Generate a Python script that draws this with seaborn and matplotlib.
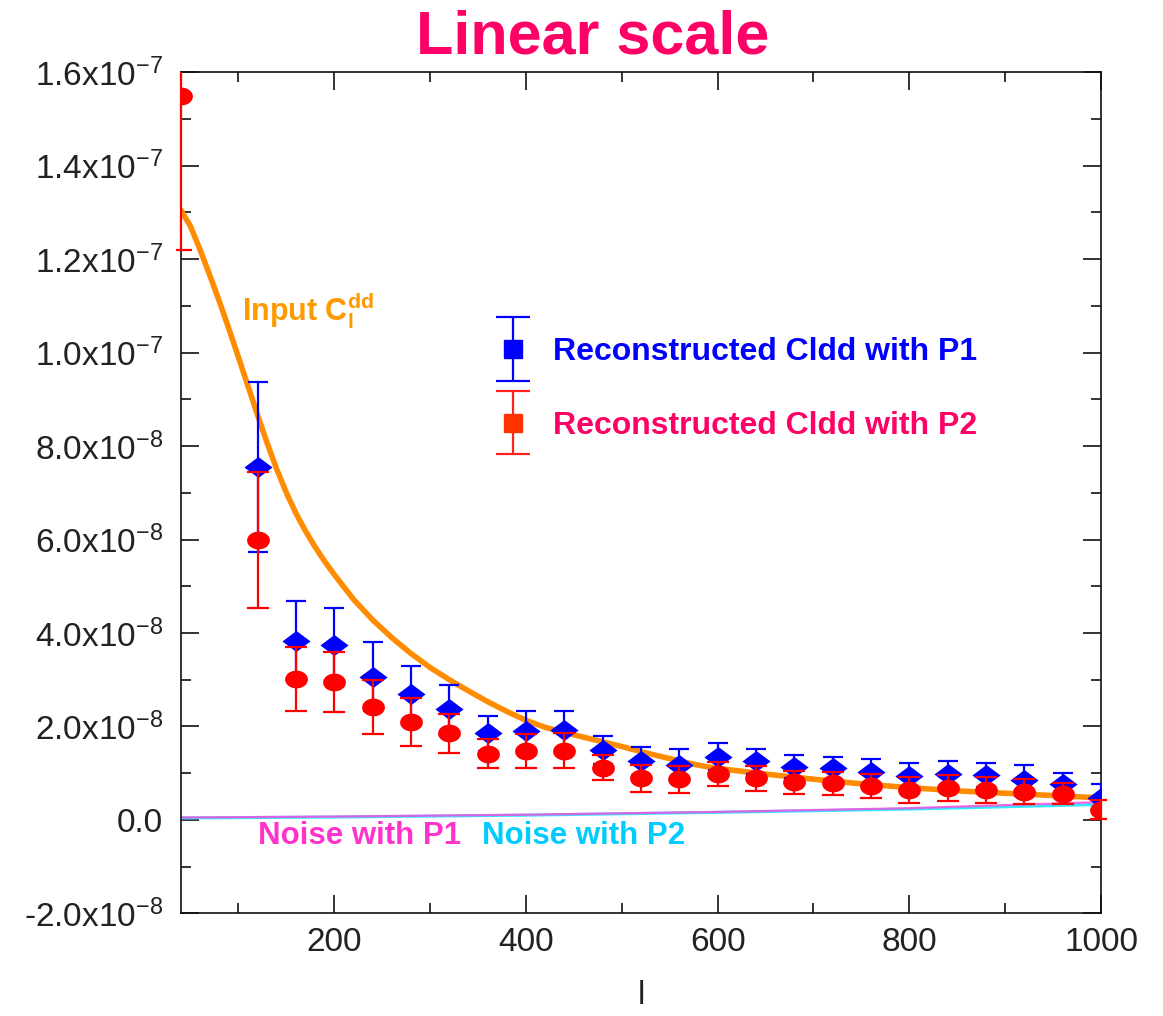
import numpy as np
import pandas as pd
import matplotlib
matplotlib.use("Agg")
import matplotlib.pyplot as plt
import seaborn as sns
from matplotlib.container import ErrorbarContainer
from matplotlib.legend_handler import HandlerErrorbar
from matplotlib.markers import MarkerStyle
from matplotlib.ticker import FixedLocator, FixedFormatter, MultipleLocator
from matplotlib.transforms import Bbox, TransformedBbox

# all C_l values below are in units of 1e-8
l_p1 = [120, 160, 200, 240, 280, 320, 360, 400, 440, 480, 520, 560,
        600, 640, 680, 720, 760, 800, 840, 880, 920, 960, 1000]
cl_p1 = [7.55, 3.83, 3.74, 3.06, 2.69, 2.38, 1.85, 1.91, 1.92, 1.50, 1.25, 1.18,
         1.35, 1.25, 1.14, 1.10, 1.03, 0.93, 0.98, 0.96, 0.85, 0.77, 0.46]
err_p1 = [1.82, 0.85, 0.80, 0.74, 0.61, 0.51, 0.37, 0.43, 0.42, 0.30, 0.30, 0.34,
          0.29, 0.27, 0.24, 0.25, 0.27, 0.29, 0.29, 0.26, 0.33, 0.24, 0.30]

l_p2 = [40, 120, 160, 200, 240, 280, 320, 360, 400, 440, 480, 520, 560,
        600, 640, 680, 720, 760, 800, 840, 880, 920, 960, 1000]
cl_p2 = [15.5, 5.99, 3.01, 2.95, 2.41, 2.09, 1.85, 1.42, 1.47, 1.48, 1.12, 0.89, 0.87,
         0.98, 0.89, 0.80, 0.78, 0.73, 0.64, 0.68, 0.64, 0.60, 0.56, 0.22]
err_p2 = [3.3, 1.45, 0.69, 0.64, 0.58, 0.52, 0.42, 0.32, 0.36, 0.37, 0.27, 0.29, 0.29,
          0.26, 0.27, 0.24, 0.25, 0.26, 0.27, 0.27, 0.27, 0.27, 0.22, 0.20]

l_input = [40, 50, 60, 70, 80, 90, 100, 110, 120, 130, 140, 150, 160, 170, 180, 190, 200,
           220, 240, 260, 280, 300, 320, 340, 360, 380, 400, 420, 440, 460, 480, 500,
           520, 540, 560, 580, 600, 650, 700, 750, 800, 850, 900, 950, 1000]
cl_input = [13.05, 12.70, 12.20, 11.66, 11.10, 10.51, 9.90, 9.28, 8.66, 8.06, 7.50, 7.00,
            6.56, 6.18, 5.84, 5.53, 5.25, 4.72, 4.28, 3.90, 3.56, 3.26, 3.00, 2.76, 2.53,
            2.32, 2.13, 1.98, 1.87, 1.77, 1.67, 1.57, 1.46, 1.36, 1.26, 1.17, 1.10, 0.98,
            0.87, 0.77, 0.69, 0.62, 0.57, 0.52, 0.47]

l_noise = [40, 200, 400, 600, 800, 1000]
noise_p1 = [0.05, 0.07, 0.11, 0.17, 0.25, 0.38]
noise_p2 = [0.04, 0.06, 0.10, 0.16, 0.23, 0.33]

y_ticks = [-2, 0, 2, 4, 6, 8, 10, 12, 14, 16]
y_tick_labels = ["-2.0x10$^{-8}$", "0.0", "2.0x10$^{-8}$", "4.0x10$^{-8}$", "6.0x10$^{-8}$",
                 "8.0x10$^{-8}$", "1.0x10$^{-7}$", "1.2x10$^{-7}$", "1.4x10$^{-7}$", "1.6x10$^{-7}$"]

scale = 1e-8
p1 = pd.DataFrame({"l": l_p1, "cl": np.array(cl_p1) * scale, "err": np.array(err_p1) * scale})
p2 = pd.DataFrame({"l": l_p2, "cl": np.array(cl_p2) * scale, "err": np.array(err_p2) * scale})
inp = pd.DataFrame({"l": l_input, "cl": np.array(cl_input) * scale})
noise = pd.DataFrame({"l": l_noise, "p1": np.array(noise_p1) * scale, "p2": np.array(noise_p2) * scale})

sns.set_theme(style="ticks")
plt.rcParams["font.family"] = ["Liberation Sans", "DejaVu Sans"]
plt.rcParams["mathtext.fontset"] = "custom"
plt.rcParams["mathtext.rm"] = "Liberation Sans"
plt.rcParams["mathtext.it"] = "Liberation Sans:italic"
plt.rcParams["mathtext.bf"] = "Liberation Sans:bold"

fig = plt.figure(figsize=(11.63, 10.16), dpi=100)
ax = fig.add_axes([0.1556, 0.1011, 0.7911, 0.8277])

blue = "#0000FF"
red = "#FF0000"

sns.lineplot(data=inp, x="l", y="cl", color="#FF8C00", lw=4, ax=ax, zorder=2)
sns.lineplot(data=noise, x="l", y="p2", color="#33E8FF", lw=2.2, ax=ax, zorder=2)
sns.lineplot(data=noise, x="l", y="p1", color="#FF44DD", lw=1.6, ax=ax, zorder=2, alpha=0.8)

# squashed diamond and ellipse markers like in the original
diamond = MarkerStyle([(-1, 0), (0, 0.75), (1, 0), (0, -0.75), (-1, 0)])
t = np.linspace(0, 2 * np.pi, 40)
ellipse = MarkerStyle(list(zip(np.cos(t), 0.78 * np.sin(t))))

ax.errorbar(p1.l, p1.cl, yerr=p1.err, fmt="none", ecolor=blue, elinewidth=1.6,
            capsize=7, capthick=1.6, zorder=3)
sns.scatterplot(data=p1, x="l", y="cl", marker=diamond, s=410, color=blue,
                linewidth=0, ax=ax, zorder=4)
eb2 = ax.errorbar(p2.l, p2.cl, yerr=p2.err, fmt="none", ecolor=red, elinewidth=1.6,
                  capsize=8, capthick=1.6, zorder=5)
# let the red bars sit on top of the left spine, as in the original
wide_clip = TransformedBbox(Bbox([[-0.005, 0.0], [1.005, 1.0]]), ax.transAxes)
for art in list(eb2.lines[1]) + list(eb2.lines[2]):
    art.set_clip_box(wide_clip)
sns.scatterplot(data=p2, x="l", y="cl", marker=ellipse, s=270, color=red,
                linewidth=0, ax=ax, zorder=6)

# legend proxies (square markers with error bars)
h1 = ax.errorbar([np.nan], [np.nan], yerr=[1], fmt="s", color=blue, ms=13,
                 elinewidth=1.6, capsize=12, capthick=1.6,
                 label="Reconstructed Cldd with P1")
h2 = ax.errorbar([np.nan], [np.nan], yerr=[1], fmt="s", color="#FF3300", ecolor="#FF2020",
                 ms=13, elinewidth=1.6, capsize=12, capthick=1.6,
                 label="Reconstructed Cldd with P2")
leg = ax.legend(handles=[h1, h2], loc="upper left", bbox_to_anchor=(0.344, 0.685),
                frameon=False, fontsize=23, handlelength=1.0, handletextpad=0.75,
                labelspacing=1.36, borderpad=0, borderaxespad=0, numpoints=1,
                labelcolor=[blue, "#FF0066"],
                handler_map={ErrorbarContainer: HandlerErrorbar(yerr_size=1.0)})
for txt in leg.get_texts():
    txt.set_fontweight("bold")

ax.text(0.066, 0.7045, r"Input C$_{\mathbf{l}}^{\mathbf{dd}}$", transform=ax.transAxes,
        color="#FF9900", fontsize=22, fontweight="bold", va="baseline")
ax.text(0.0837, 0.082, "Noise with P1", transform=ax.transAxes,
        color="#FF33CC", fontsize=22.5, fontweight="bold", va="baseline")
ax.text(0.327, 0.082, "Noise with P2", transform=ax.transAxes,
        color="#00CCFF", fontsize=22.5, fontweight="bold", va="baseline")

fig.text(0.51, 0.963, "Linear scale", color="#FF0066", fontsize=44,
         fontweight="bold", ha="center", va="center")

ax.set_xlim(40, 1000)
ax.set_ylim(-2e-8, 1.6e-7)
ax.xaxis.set_major_locator(FixedLocator([200, 400, 600, 800, 1000]))
ax.xaxis.set_minor_locator(MultipleLocator(100))
ax.yaxis.set_major_locator(FixedLocator([v * scale for v in y_ticks]))
ax.yaxis.set_major_formatter(FixedFormatter(y_tick_labels))
ax.yaxis.set_minor_locator(MultipleLocator(1e-8))
ax.tick_params(which="both", direction="in", top=True, right=True, colors="#111111",
               labelcolor="#222222", width=1.2)
ax.tick_params(which="major", length=13)
ax.tick_params(which="minor", length=7)
ax.tick_params(axis="x", labelsize=24, pad=10)
ax.tick_params(axis="y", labelsize=24, pad=13)
for sp in ax.spines.values():
    sp.set_linewidth(1.2)
    sp.set_color("#111111")
    sp.set_visible(True)

ax.set_xlabel("l", fontsize=24, labelpad=16, color="#222222")
ax.set_ylabel("")

fig.savefig("out.png", dpi=100)
